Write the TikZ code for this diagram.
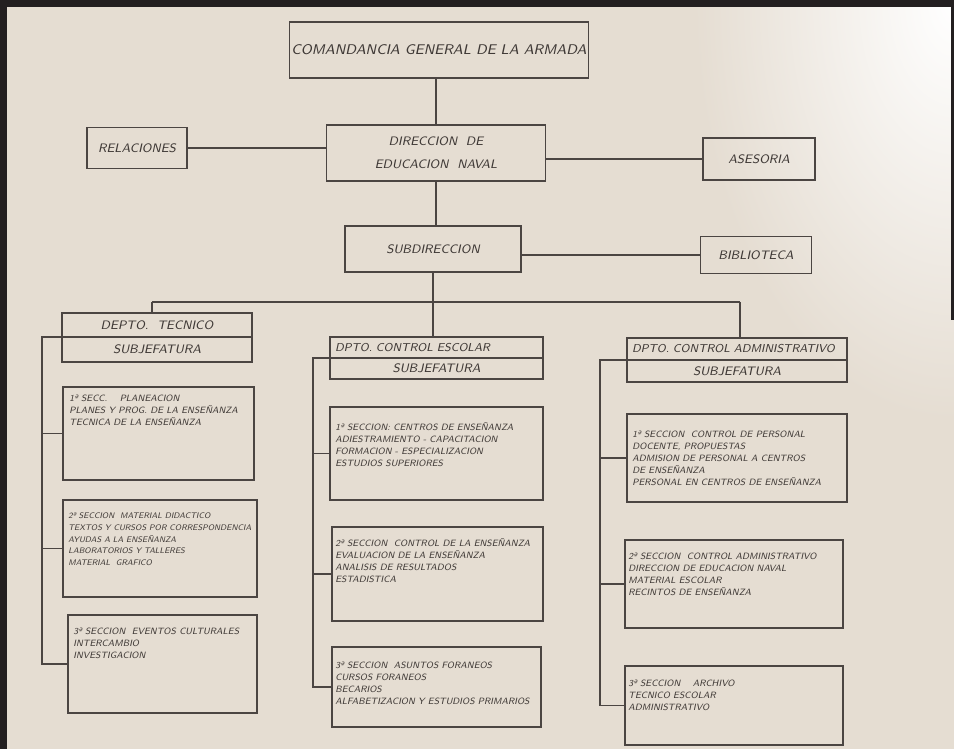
\documentclass[tikz,border=0pt]{standalone}
\usepackage{tikz}
\usetikzlibrary{positioning, calc}
\definecolor{papel}{HTML}{E5DDD2}
\definecolor{marco}{HTML}{231F20}
\definecolor{tinta}{HTML}{4B4542}
\definecolor{lapiz}{HTML}{3F3936}

\begin{document}
\begin{tikzpicture}[x=0.02cm, y=-0.02cm,
  caja/.style={draw=tinta, line width=0.9pt, inner sep=1pt, outer sep=0pt,
    text=lapiz, font=\fontsize{7}{8}\sffamily\slshape},
  linea/.style={draw=tinta, line width=0.9pt},
  seccion/.style={draw=tinta, line width=0.9pt, outer sep=0pt, inner sep=0pt},
  texto/.style={inner sep=0pt, align=left, text=lapiz,
    font=\fontsize{5.2}{6.8}\sffamily\slshape}]

  % paper and frame of the photo
  \useasboundingbox (0,0) rectangle (954,749);
  \fill[papel] (0,0) rectangle (954,749);
  \begin{scope}
    \clip (0,0) rectangle (954,749);
    \shade[inner color=white, outer color=papel] (954,0) ellipse [x radius=260, y radius=420];
  \end{scope}
  \fill[marco] (0,0) rectangle (954,7);
  \fill[marco] (0,0) rectangle (7,749);
  \fill[marco] (951,0) rectangle (954,320);

  % upper levels
  \node[caja, minimum width=5.64cm, minimum height=1.12cm, font=\fontsize{8}{9}\sffamily\slshape] (coman) at (439,50) {COMANDANCIA GENERAL DE LA ARMADA};
  \node[caja, minimum width=4.38cm, minimum height=1.12cm, align=center, font=\fontsize{7}{13}\sffamily\slshape] (dir) at (436,153) {DIRECCION \ DE\\EDUCACION \ NAVAL};
  \node[caja, minimum width=2cm, minimum height=0.82cm] (rel) at (137,148) {RELACIONES};
  \node[caja, minimum width=2.24cm, minimum height=0.84cm] (ases) at (759,159) {ASESORIA};
  \node[caja, minimum width=3.52cm, minimum height=0.92cm] (subd) at (433,249) {SUBDIRECCION};
  \node[caja, minimum width=2.22cm, minimum height=0.74cm] (bibl) at (756,255) {BIBLIOTECA};

  \draw[linea] (dir.north) -- (dir.north |- coman.south);
  \draw[linea] (rel.east) -- (rel.east -| dir.west);
  \draw[linea] (dir.east |- ases) -- (ases.west);
  \draw[linea] (dir.south) -- (dir.south |- subd.north);
  \draw[linea] (subd.east |- bibl) -- (bibl.west);

  % departments
  \node[caja, minimum width=3.8cm, minimum height=0.48cm] (deptA) at (157,325) {DEPTO. \ TECNICO};
  \node[caja, minimum width=3.8cm, minimum height=0.5cm, below=0pt of deptA] (subA) {SUBJEFATURA};
  \node[caja, inner xsep=0.1cm, text width=4.06cm, align=left, minimum height=0.42cm, font=\fontsize{6.5}{7.5}\sffamily\slshape] (deptB) at (436.5,347.5) {DPTO. CONTROL ESCOLAR};
  \node[caja, minimum width=4.26cm, minimum height=0.42cm, below=0pt of deptB] (subB) {SUBJEFATURA};
  \node[caja, inner xsep=0.1cm, text width=4.2cm, align=left, minimum height=0.44cm, font=\fontsize{6.5}{7.5}\sffamily\slshape] (deptC) at (737,349) {DPTO. CONTROL ADMINISTRATIVO};
  \node[caja, minimum width=4.4cm, minimum height=0.44cm, below=0pt of deptC] (subC) {SUBJEFATURA};

  \coordinate (busI) at (152,302);
  \coordinate (busD) at (740,302);
  \draw[linea] (busI) -- (busD);
  \draw[linea] (subd.south) -- (subd.south |- busI);
  \draw[linea] (busI) -- (busI |- deptA.north);
  \draw[linea] (subd.south |- busI) -- (subd.south |- deptB.north);
  \draw[linea] (busD) -- (busD |- deptC.north);

  % sections
  \foreach \n/\x/\y/\w/\h in {A1/158.5/433.5/3.82/1.86, A2/160/548.5/3.88/1.94, A3/162.5/664/3.78/1.96,
      B1/436.5/453.5/4.26/1.86, B2/437.5/574/4.22/1.88, B3/436.5/687/4.18/1.6,
      C1/737/458/4.4/1.76, C2/734/584/4.36/1.76, C3/734/705.5/4.36/1.58}{
    \node[seccion, minimum width=\w cm, minimum height=\h cm] (sec\n) at (\x,\y) {};
  }

  \node[texto, below right=0.16cm and 0.12cm of secA1.north west] (txtA1) {1ª SECC. \quad PLANEACION\\PLANES Y PROG. DE LA ENSEÑANZA\\TECNICA DE LA ENSEÑANZA};
  \node[texto, below right=0.24cm and 0.1cm of secA2.north west, font=\fontsize{4.6}{6.8}\sffamily\slshape] (txtA2) {2ª SECCION \ MATERIAL DIDACTICO\\TEXTOS Y CURSOS POR CORRESPONDENCIA\\AYUDAS A LA ENSEÑANZA\\LABORATORIOS Y TALLERES\\MATERIAL \ GRAFICO};
  \node[texto, below right=0.26cm and 0.1cm of secA3.north west] (txtA3) {3ª SECCION \ EVENTOS CULTURALES\\INTERCAMBIO\\INVESTIGACION};
  \node[texto, below right=0.3cm and 0.1cm of secB1.north west] (txtB1) {1ª SECCION: CENTROS DE ENSEÑANZA\\ADIESTRAMIENTO - CAPACITACION\\FORMACION - ESPECIALIZACION\\ESTUDIOS SUPERIORES};
  \node[texto, below right=0.22cm and 0.06cm of secB2.north west] (txtB2) {2ª SECCION \ CONTROL DE LA ENSEÑANZA\\EVALUACION DE LA ENSEÑANZA\\ANALISIS DE RESULTADOS\\ESTADISTICA};
  \node[texto, below right=0.3cm and 0.06cm of secB3.north west] (txtB3) {3ª SECCION \ ASUNTOS FORANEOS\\CURSOS FORANEOS\\BECARIOS\\ALFABETIZACION Y ESTUDIOS PRIMARIOS};
  \node[texto, below right=0.34cm and 0.1cm of secC1.north west] (txtC1) {1ª SECCION \ CONTROL DE PERSONAL\\DOCENTE, PROPUESTAS\\ADMISION DE PERSONAL A CENTROS\\DE ENSEÑANZA\\PERSONAL EN CENTROS DE ENSEÑANZA};
  \node[texto, below right=0.26cm and 0.06cm of secC2.north west] (txtC2) {2ª SECCION \ CONTROL ADMINISTRATIVO\\DIRECCION DE EDUCACION NAVAL\\MATERIAL ESCOLAR\\RECINTOS DE ENSEÑANZA};
  \node[texto, below right=0.28cm and 0.06cm of secC3.north west] (txtC3) {3ª SECCION \quad ARCHIVO\\TECNICO ESCOLAR\\ADMINISTRATIVO};

  % spines on the left of each column
  \coordinate (ejeA) at (42,0);
  \coordinate (ejeB) at (313,0);
  \coordinate (ejeC) at (600,0);
  \foreach \c in {A,B,C}{
    \draw[linea] (sub\c.north west) -| (eje\c |- sec\c3.west) -- (sec\c3.west);
    \foreach \s in {1,2}
      \draw[linea] (eje\c |- sec\c\s.west) -- (sec\c\s.west);
  }
\end{tikzpicture}
\end{document}
